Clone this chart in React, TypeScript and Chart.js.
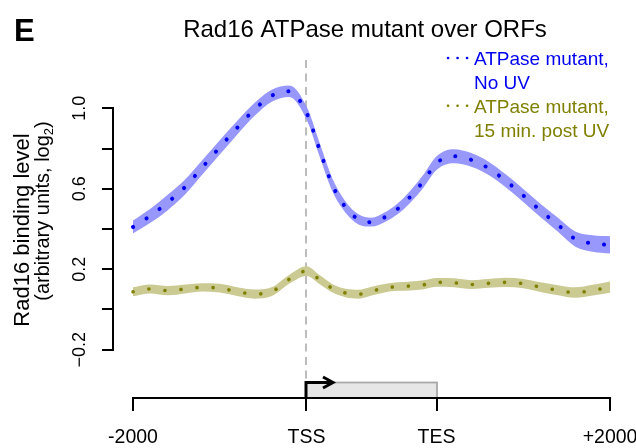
import React, { useEffect, useRef } from 'react';
import { Chart, registerables } from 'chart.js';

Chart.register(...registerables);

// ---------- data ----------
const TITLE = 'Rad16 ATPase mutant over ORFs';
const PANEL = 'E';
const Y_TITLE_LINE1 = 'Rad16 binding level';
const Y_TITLE_LINE2 = ['(arbitrary units, log', '2', ')'];

// metagene coordinate: -2000..0 upstream, 0..1500 scaled ORF (TSS..TES), 1500..3500 downstream
const positions = [
  -2000, -1800, -1600, -1400, -1200, -1000, -800, -600, -400, -200, 0,
  150, 300, 450, 600, 750, 900, 1050, 1200, 1350, 1500,
  1700, 1900, 2100, 2300, 2500, 2700, 2900, 3100, 3300, 3500,
];

const noUvMean = [
  0.410, 0.466, 0.532, 0.609, 0.707, 0.806, 0.903, 0.994, 1.063, 1.085, 0.978,
  0.796, 0.618, 0.509, 0.448, 0.434, 0.458, 0.500, 0.562, 0.639, 0.728,
  0.762, 0.744, 0.702, 0.639, 0.567, 0.491, 0.421, 0.350, 0.328, 0.321,
];
const noUvErr = [
  0.032, 0.035, 0.038, 0.037, 0.036, 0.036, 0.034, 0.032, 0.030, 0.028, 0.032,
  0.034, 0.032, 0.028, 0.025, 0.022, 0.024, 0.027, 0.030, 0.032, 0.034,
  0.035, 0.034, 0.033, 0.032, 0.032, 0.033, 0.035, 0.038, 0.041, 0.043,
];

const postUvMean = [
  0.088, 0.102, 0.094, 0.102, 0.110, 0.106, 0.089, 0.077, 0.089, 0.150, 0.191,
  0.149, 0.105, 0.082, 0.076, 0.091, 0.106, 0.114, 0.117, 0.123, 0.135,
  0.133, 0.124, 0.130, 0.135, 0.129, 0.111, 0.096, 0.084, 0.096, 0.111,
];
const postUvErr = [
  0.022, 0.022, 0.023, 0.022, 0.021, 0.022, 0.022, 0.023, 0.022, 0.022, 0.024,
  0.022, 0.021, 0.021, 0.022, 0.022, 0.021, 0.021, 0.022, 0.022, 0.022,
  0.022, 0.022, 0.022, 0.023, 0.023, 0.024, 0.025, 0.026, 0.027, 0.028,
];

const xTickValues = [-2000, 0, 1500, 3500];
const xTickLabels = ['-2000', 'TSS', 'TES', '+2000'];
const yTickValues = [-0.2, 0, 0.2, 0.4, 0.6, 0.8, 1.0];
const yTickLabels = ['\u22120.2', '', '0.2', '', '0.6', '', '1.0'];

const legendNoUv = ['ATPase mutant,', 'No UV'];
const legendPostUv = ['ATPase mutant,', '15 min. post UV'];

// ---------- styles ----------
const FONT = '"Liberation Sans", Arial, sans-serif';
const BLUE = '#0000ee';
const BLUE_BAND = 'rgb(152,152,252)';
const OLIVE = '#808000';
const OLIVE_BAND = 'rgb(202,202,146)';

const pts = (ys: number[]) => positions.map((x, i) => ({ x, y: ys[i] }));
const plus = (m: number[], e: number[]) => m.map((v, i) => v + e[i]);
const minus = (m: number[], e: number[]) => m.map((v, i) => v - e[i]);

const decorPlugin = {
  id: 'decor',
  beforeDatasetsDraw(chart: any) {
    const { ctx, scales } = chart;
    const x = scales.x;
    const y = scales.y;
    const px = Math.round(x.getPixelForValue(xTickValues[1]));
    ctx.save();
    ctx.strokeStyle = '#bcbcbc';
    ctx.lineWidth = 2;
    ctx.setLineDash([8, 5.5]);
    ctx.beginPath();
    ctx.moveTo(px, y.getPixelForValue(1.24));
    ctx.lineTo(px, chart.chartArea.bottom - 17);
    ctx.stroke();
    ctx.restore();
  },
  afterDraw(chart: any) {
    const { ctx, scales, chartArea } = chart;
    const x = scales.x;
    const y = scales.y;
    const bottom = chartArea.bottom;
    const tss = Math.round(x.getPixelForValue(xTickValues[1]));
    const tes = Math.round(x.getPixelForValue(xTickValues[2]));
    ctx.save();

    // gene box
    const boxTop = bottom - 15.5;
    ctx.fillStyle = '#e6e6e6';
    ctx.fillRect(tss, boxTop, tes - tss, bottom - boxTop);
    ctx.strokeStyle = '#a8a8a8';
    ctx.lineWidth = 1.8;
    ctx.strokeRect(tss, boxTop, tes - tss, bottom - boxTop);

    // x axis line
    ctx.strokeStyle = '#000';
    ctx.lineWidth = 2;
    ctx.beginPath();
    ctx.moveTo(x.getPixelForValue(xTickValues[0]) - 1, bottom);
    ctx.lineTo(x.getPixelForValue(xTickValues[xTickValues.length - 1]) + 1, bottom);
    ctx.stroke();

    // y axis line
    ctx.beginPath();
    ctx.moveTo(chartArea.left - 1, y.getPixelForValue(yTickValues[0]) + 1);
    ctx.lineTo(chartArea.left - 1, y.getPixelForValue(yTickValues[yTickValues.length - 1]) - 1);
    ctx.stroke();

    // TSS arrow
    ctx.lineWidth = 3;
    ctx.lineJoin = 'miter';
    ctx.beginPath();
    ctx.moveTo(tss, bottom);
    ctx.lineTo(tss, boxTop);
    ctx.lineTo(tss + 27, boxTop);
    ctx.stroke();
    ctx.beginPath();
    ctx.moveTo(tss + 17, boxTop - 5.5);
    ctx.lineTo(tss + 27, boxTop);
    ctx.lineTo(tss + 17, boxTop + 5.5);
    ctx.stroke();

    // title and panel letter
    ctx.fillStyle = '#000';
    ctx.textBaseline = 'alphabetic';
    ctx.textAlign = 'center';
    ctx.font = `24px ${FONT}`;
    ctx.fillText(TITLE, 365, 37);
    ctx.textAlign = 'left';
    ctx.font = `bold 31px ${FONT}`;
    ctx.fillText(PANEL, 14, 41);

    // y title
    ctx.save();
    ctx.translate(28.5, 230);
    ctx.rotate(-Math.PI / 2);
    ctx.textAlign = 'center';
    ctx.font = `22px ${FONT}`;
    ctx.fillText(Y_TITLE_LINE1, 0, 0);
    ctx.restore();

    ctx.save();
    ctx.translate(48.5, 211);
    ctx.rotate(-Math.PI / 2);
    ctx.textAlign = 'left';
    const mainFont = `20px ${FONT}`;
    const subFont = `13px ${FONT}`;
    ctx.font = mainFont;
    const w1 = ctx.measureText(Y_TITLE_LINE2[0]).width;
    const w3 = ctx.measureText(Y_TITLE_LINE2[2]).width;
    ctx.font = subFont;
    const w2 = ctx.measureText(Y_TITLE_LINE2[1]).width;
    let cx = -(w1 + w2 + w3) / 2;
    ctx.font = mainFont;
    ctx.fillText(Y_TITLE_LINE2[0], cx, 0);
    cx += w1;
    ctx.font = subFont;
    ctx.fillText(Y_TITLE_LINE2[1], cx, 4);
    cx += w2;
    ctx.font = mainFont;
    ctx.fillText(Y_TITLE_LINE2[2], cx, 0);
    ctx.restore();

    // legend
    const drawEntry = (lines: string[], color: string, base: number) => {
      ctx.strokeStyle = color;
      ctx.lineWidth = 2.6;
      ctx.lineCap = 'round';
      ctx.setLineDash([0.1, 9.4]);
      ctx.beginPath();
      ctx.moveTo(448, base - 7);
      ctx.lineTo(468, base - 7);
      ctx.stroke();
      ctx.setLineDash([]);
      ctx.fillStyle = color;
      ctx.textAlign = 'left';
      ctx.font = `19px ${FONT}`;
      lines.forEach((t, i) => ctx.fillText(t, 474, base + i * 23.8));
    };
    drawEntry(legendNoUv, BLUE, 65);
    drawEntry(legendPostUv, OLIVE, 112.8);

    ctx.restore();
  },
};

export default function App() {
  const ref = useRef<HTMLCanvasElement | null>(null);

  useEffect(() => {
    if (!ref.current) return;
    const lineCommon = {
      pointRadius: 0,
      cubicInterpolationMode: 'monotone' as const,
      fill: false,
    };
    const chart = new Chart(ref.current, {
      type: 'line',
      data: {
        datasets: [
          {
            ...lineCommon,
            label: legendNoUv.join(' '),
            data: pts(noUvMean),
            borderColor: BLUE,
            borderWidth: 4,
            borderDash: [0.1, 16],
            borderCapStyle: 'round',
          },
          {
            ...lineCommon,
            label: legendPostUv.join(' '),
            data: pts(postUvMean),
            borderColor: OLIVE,
            borderWidth: 3.6,
            borderDash: [0.1, 16],
            borderCapStyle: 'round',
          },
          {
            ...lineCommon,
            label: 'No UV upper',
            data: pts(plus(noUvMean, noUvErr)),
            borderWidth: 0,
            borderColor: 'rgba(0,0,0,0)',
            backgroundColor: BLUE_BAND,
            fill: '+1',
          },
          {
            ...lineCommon,
            label: 'No UV lower',
            data: pts(minus(noUvMean, noUvErr)),
            borderWidth: 0,
            borderColor: 'rgba(0,0,0,0)',
          },
          {
            ...lineCommon,
            label: 'Post UV upper',
            data: pts(plus(postUvMean, postUvErr)),
            borderWidth: 0,
            borderColor: 'rgba(0,0,0,0)',
            backgroundColor: OLIVE_BAND,
            fill: '+1',
          },
          {
            ...lineCommon,
            label: 'Post UV lower',
            data: pts(minus(postUvMean, postUvErr)),
            borderWidth: 0,
            borderColor: 'rgba(0,0,0,0)',
          },
        ],
      },
      options: {
        responsive: false,
        animation: false,
        layout: { padding: { top: 48, right: 12, left: 0, bottom: 0 } },
        plugins: {
          legend: { display: false },
          title: { display: false },
          tooltip: { enabled: false },
        },
        scales: {
          x: {
            type: 'linear',
            min: -2219,
            max: 3661,
            afterBuildTicks: (s: any) => {
              s.ticks = xTickValues.map((v) => ({ value: v }));
            },
            afterFit: (s: any) => {
              s.height = 50;
              s.paddingLeft = 0;
              s.paddingRight = 0;
            },
            ticks: {
              autoSkip: false,
              maxRotation: 0,
              minRotation: 0,
              padding: 15,
              color: '#000',
              font: { family: FONT, size: 19.5 },
              callback: (_v: any, i: number) => xTickLabels[i],
            },
            grid: {
              drawOnChartArea: false,
              drawTicks: true,
              tickLength: 13,
              color: '#000',
              lineWidth: 2,
            },
            border: { display: false },
          },
          y: {
            type: 'linear',
            min: -0.44,
            max: 1.3,
            afterBuildTicks: (s: any) => {
              s.ticks = yTickValues.map((v) => ({ value: v }));
            },
            afterFit: (s: any) => {
              s.width = 114;
              s.paddingTop = 0;
              s.paddingBottom = 0;
            },
            ticks: {
              autoSkip: false,
              minRotation: 90,
              maxRotation: 90,
              crossAlign: 'center',
              padding: 4,
              color: '#000',
              font: { family: FONT, size: 18 },
              callback: (_v: any, i: number) => yTickLabels[i],
            },
            grid: {
              drawOnChartArea: false,
              drawTicks: true,
              tickLength: 12,
              color: '#000',
              lineWidth: 2,
            },
            border: { display: false },
          },
        },
      },
      plugins: [decorPlugin],
    });
    return () => chart.destroy();
  }, []);

  return (
    <div style={{ position: 'absolute', left: 0, top: 0, width: 636, height: 448, background: '#fff' }}>
      <canvas ref={ref} width={636} height={448} style={{ display: 'block' }} />
    </div>
  );
}
